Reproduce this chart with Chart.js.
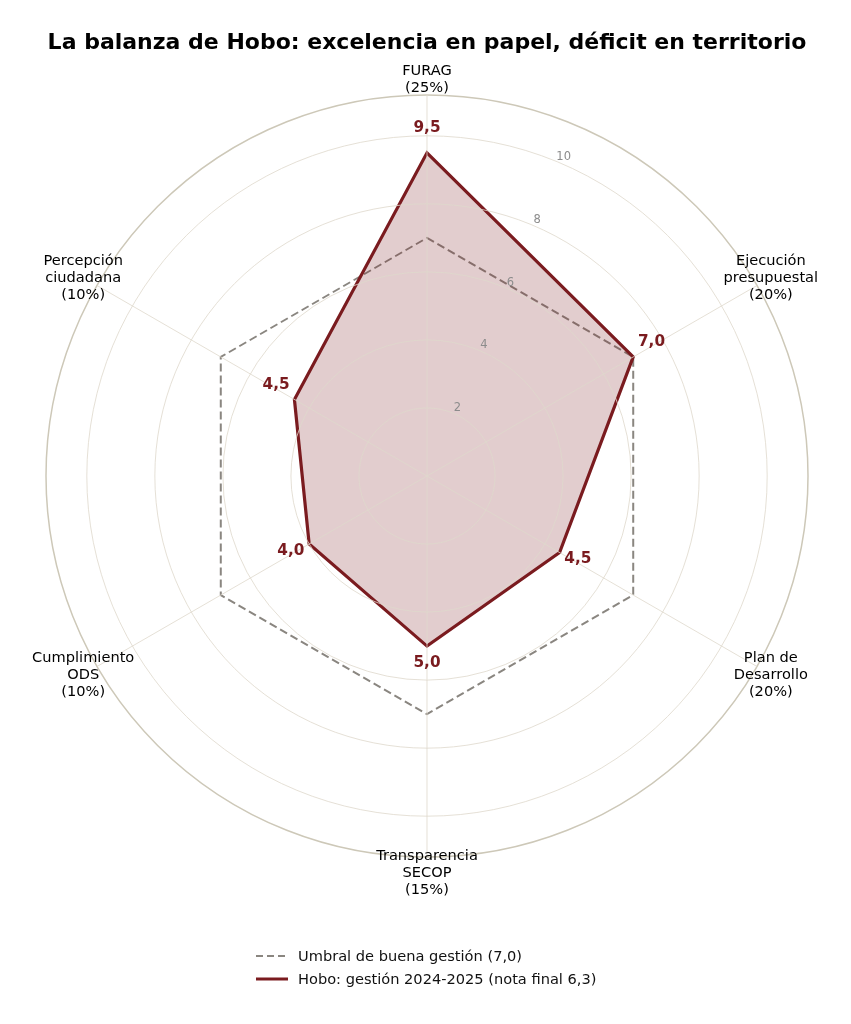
<!DOCTYPE html>
<html>
<head>
<meta charset="utf-8">
<script src="https://cdn.jsdelivr.net/npm/chart.js@4/dist/chart.umd.min.js"></script>
<style>
  body { margin: 0; background: #fff; font-family: "DejaVu Sans", sans-serif; }
  #wrap { position: relative; width: 851px; height: 1024px; }
  #legend { position: absolute; left: 256px; top: 944px; font-size: 14.6px; color: #111; }
  .row { display: flex; align-items: center; height: 23px; }
  .row svg { margin-right: 10px; }
</style>
</head>
<body>
<div id="wrap">
  <canvas id="radar" width="851" height="1024"></canvas>
  <div id="legend">
    <div class="row"><svg width="32" height="6"><line x1="0" y1="3" x2="32" y2="3" stroke="#8a8680" stroke-width="2" stroke-dasharray="7,4"/></svg>Umbral de buena gestión (7,0)</div>
    <div class="row"><svg width="32" height="6"><line x1="0" y1="3" x2="32" y2="3" stroke="#7a1b1f" stroke-width="3"/></svg>Hobo: gestión 2024-2025 (nota final 6,3)</div>
  </div>
</div>
<script>
// dimensions and their weights
const axisLabels = [
    ["FURAG", "(25%)"],
    ["Ejecución", "presupuestal", "(20%)"],
    ["Plan de", "Desarrollo", "(20%)"],
    ["Transparencia", "SECOP", "(15%)"],
    ["Cumplimiento", "ODS", "(10%)"],
    ["Percepción", "ciudadana", "(10%)"],
];
const hoboScores = [9.5, 7.0, 4.5, 5.0, 4.0, 4.5];
const thresholdScores = [7.0, 7.0, 7.0, 7.0, 7.0, 7.0];
const tickValues = [0, 2, 4, 6, 8, 10];
const rMax = 11.2;

const RED = "#7a1b1f";
const GREY = "#8a8680";

function fmt(v) {
    return v.toFixed(1).replace(".", ",");
}

// axis names, radial tick labels and value labels
const labelsPlugin = {
    id: "radarLabels",
    afterDraw(chart) {
        const scale = chart.scales.r;
        const ctx = chart.ctx;
        const xc = scale.xCenter;
        const yc = scale.yCenter;
        ctx.save();
        ctx.textAlign = "center";
        ctx.textBaseline = "middle";

        // tick labels along ~23 degrees
        ctx.font = "11.5px 'DejaVu Sans'";
        ctx.fillStyle = "#8c8c8c";
        const a = 23 * Math.PI / 180;
        for (const v of tickValues) {
            if (v === 0) continue;
            const d = scale.getDistanceFromCenterForValue(v) + 7;
            ctx.fillText(String(v), xc + d * Math.sin(a) + 1, yc - d * Math.cos(a) + 1);
        }

        // axis names
        ctx.font = "14.6px 'DejaVu Sans'";
        ctx.fillStyle = "#000";
        const lineH = 17;
        const outer = scale.getDistanceFromCenterForValue(rMax) + 16;
        for (let i = 0; i < axisLabels.length; i++) {
            const p = scale.getPointPosition(i, outer);
            const lines = axisLabels[i];
            const y0 = p.y - (lines.length - 1) * lineH / 2;
            for (let j = 0; j < lines.length; j++) {
                ctx.fillText(lines[j], p.x, y0 + j * lineH + 0.5);
            }
        }

        // value labels
        ctx.font = "bold 15.3px 'DejaVu Sans'";
        ctx.fillStyle = RED;
        for (let i = 0; i < hoboScores.length; i++) {
            const d = scale.getDistanceFromCenterForValue(hoboScores[i] + 0.62);
            const p = scale.getPointPosition(i, d);
            ctx.fillText(fmt(hoboScores[i]), p.x, p.y - 4);
        }
        ctx.restore();
    }
};

new Chart("radar", {
    type: "radar",
    data: {
        labels: axisLabels,
        datasets: [
            {
                label: "Umbral de buena gestión (7,0)",
                data: thresholdScores,
                borderColor: GREY,
                borderWidth: 2,
                borderDash: [8, 4],
                fill: false,
                pointRadius: 0,
                order: 1,
            },
            {
                label: "Hobo: gestión 2024-2025 (nota final 6,3)",
                data: hoboScores,
                borderColor: RED,
                borderWidth: 3.2,
                backgroundColor: "rgba(122, 27, 31, 0.22)",
                fill: true,
                pointRadius: 0,
                order: 0,
            },
        ],
    },
    options: {
        responsive: false,
        animation: false,
        layout: {
            padding: { left: 45, right: 42, top: 0, bottom: 166 },
        },
        plugins: {
            legend: { display: false },
            tooltip: { enabled: false },
            title: {
                display: true,
                text: "La balanza de Hobo: excelencia en papel, déficit en territorio",
                color: "#000",
                font: { family: "DejaVu Sans", size: 22, weight: "bold" },
                padding: { top: 30, bottom: 38 },
            },
        },
        scales: {
            r: {
                min: 0,
                max: rMax,
                startAngle: 0,
                afterBuildTicks: (scale) => {
                    scale.ticks = tickValues.map(v => ({ value: v })).concat({ value: rMax });
                },
                ticks: { display: false },
                pointLabels: { display: false },
                angleLines: { color: "rgba(222, 216, 204, 0.8)", lineWidth: 1 },
                grid: {
                    z: 1,
                    circular: true,
                    color: (c) => (c.tick && c.tick.value === rMax ? "#cdc8b8" : "rgba(222, 216, 204, 0.8)"),
                    lineWidth: (c) => (c.tick && c.tick.value === rMax ? 1.5 : 1),
                },
            },
        },
    },
    plugins: [labelsPlugin],
});
</script>
</body>
</html>
